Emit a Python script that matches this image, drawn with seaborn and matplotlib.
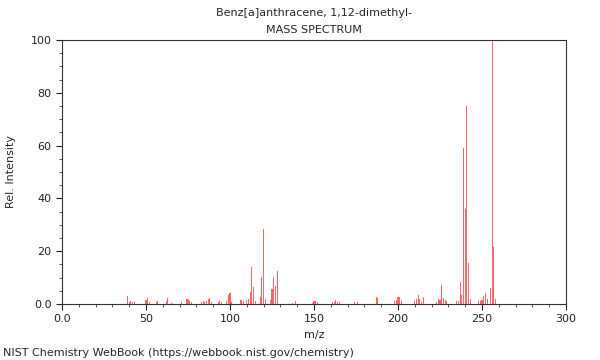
import numpy as np
import pandas as pd
import matplotlib.pyplot as plt
import seaborn as sns
from matplotlib.ticker import MultipleLocator, FuncFormatter

# peak list (m/z, relative intensity)
mz = [39, 40, 41, 42, 43, 50, 51, 52, 56, 57, 62, 63, 65, 71, 74, 75, 76, 77,
      83, 84, 85, 86, 87, 88, 89, 93, 94, 95, 98, 99, 100, 101,
      106, 107, 108, 110, 111, 112, 113, 114, 115, 118, 119, 120, 121,
      124, 125, 126, 127, 128, 137, 139, 149, 150, 151, 152,
      161, 162, 163, 164, 165, 174, 176, 187, 188,
      198, 199, 200, 201, 202, 210, 211, 212, 213, 214, 215,
      223, 224, 225, 226, 227, 228, 229, 235, 236, 237, 238, 239, 240, 241, 242, 243,
      248, 249, 250, 251, 252, 253, 255, 256, 257, 258]
intensity = [3.2, 0.8, 1.0, 0.6, 0.8, 1.5, 2.2, 0.6, 0.6, 1.0, 1.0, 2.4, 0.5, 0.7, 1.8, 1.8, 1.0, 0.8,
             0.8, 1.0, 0.8, 1.0, 2.0, 2.2, 0.7, 0.8, 1.0, 0.8, 1.0, 3.5, 4.0, 0.6,
             1.5, 1.5, 1.0, 1.5, 2.0, 4.7, 14.0, 6.6, 1.0, 2.5, 10.1, 28.5, 2.0,
             1.5, 5.6, 10.1, 6.8, 12.6, 0.5, 1.0, 0.5, 1.2, 1.0, 0.8,
             0.6, 0.8, 1.5, 0.8, 0.8, 0.8, 0.8, 2.5, 2.3,
             1.0, 1.5, 2.5, 2.5, 1.0, 1.0, 2.0, 3.4, 2.0, 0.8, 2.8,
             0.8, 2.0, 1.5, 7.2, 2.4, 1.5, 1.0, 1.0, 1.0, 8.5, 3.4, 59.0, 36.0, 75.0, 15.5, 1.8,
             1.0, 1.0, 1.5, 3.2, 4.0, 2.0, 6.0, 100.0, 21.7, 2.0]

x_ticks = [0, 50, 100, 150, 200, 250, 300]
y_ticks = [0, 20, 40, 60, 80, 100]

df = pd.DataFrame({'mz': mz, 'intensity': intensity})

sns.set_style('ticks')
plt.rcParams['font.family'] = ['DejaVu Sans']

fig = plt.figure(figsize=(6, 3.6), dpi=100)
ax = fig.add_axes([62 / 600, 1 - 304 / 360, 504 / 600, 264 / 360])

sns.histplot(data=df, x='mz', weights='intensity', discrete=True, shrink=0.6,
             color='#ff0000', alpha=0.6, linewidth=0, ax=ax)

ax.set_xlim(0, 300)
ax.set_ylim(0, 100)
ax.set_xticks(x_ticks)
ax.set_yticks(y_ticks)
fmt = FuncFormatter(lambda v, p: '0.0' if v == 0 else '{:d}'.format(int(v)))
ax.xaxis.set_major_formatter(fmt)
ax.yaxis.set_major_formatter(fmt)
ax.xaxis.set_minor_locator(MultipleLocator(10))
ax.yaxis.set_minor_locator(MultipleLocator(5))
ax.tick_params(which='major', length=4, width=0.8, labelsize=8, colors='#222222')
ax.tick_params(which='minor', length=2, width=0.6, colors='#444444')
for s in ax.spines.values():
    s.set_color('#333333')
    s.set_linewidth(0.8)

ax.set_xlabel('m/z', fontsize=8)
ax.set_ylabel('Rel. Intensity', fontsize=8)
ax.yaxis.set_label_coords(-(62 - 16) / 504, 0.5)

fig.text(314 / 600, 1 - 13 / 360, 'Benz[a]anthracene, 1,12-dimethyl-', ha='center', va='center', fontsize=8)
fig.text(314 / 600, 1 - 30 / 360, 'MASS SPECTRUM', ha='center', va='center', fontsize=8)
fig.text(3 / 600, 1 - 353 / 360, 'NIST Chemistry WebBook (https://webbook.nist.gov/chemistry)',
         ha='left', va='center', fontsize=8)

fig.savefig('out.png', dpi=100)
